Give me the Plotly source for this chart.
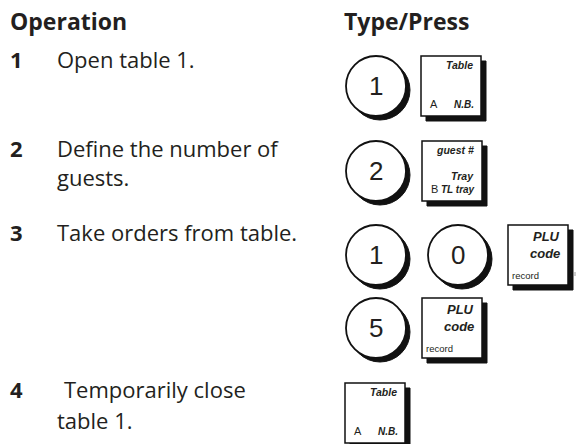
import plotly.graph_objects as go

# ---- content ----
headers = ["Operation", "Type/Press"]
step_numbers = ["1", "2", "3", "4"]
step_lines = [["Open table 1."],
              ["Define the number of", "guests."],
              ["Take orders from table."],
              ["Temporarily close", "table 1."]]
circle_digits = ["1", "2", "1", "0", "5"]
key_table = {"top": "Table", "mid": "", "left": "A", "right": "N.B."}
key_guest = {"top": "guest #", "mid": "Tray", "left": "B", "right": "TL tray"}
key_plu = {"top": "PLU", "mid": "code", "left": "record", "right": ""}

W, H = 577, 444
shapes = []
ann = []

TXT = "#231f20"
BODY = "Open Sans"
KEYF = "Liberation Sans"

def text(x, y, s, size, bold=False, family=BODY, anchor="left", italic=False):
    t = s
    if italic:
        t = "<i>" + t + "</i>"
    if bold:
        t = "<b>" + t + "</b>"
    ann.append(dict(x=x, y=y, xref="x", yref="y", text=t, showarrow=False,
                    xanchor=anchor, yanchor="middle",
                    font=dict(family=family, size=size, color=TXT)))

def circle_key(cx, cy, d, r=30):
    shapes.append(dict(type="circle", xref="x", yref="y", x0=cx-r+4, x1=cx+r+4, y0=cy-r+4, y1=cy+r+4,
                       fillcolor="#111", line=dict(color="#111", width=1)))
    shapes.append(dict(type="circle", xref="x", yref="y", x0=cx-r, x1=cx+r, y0=cy-r, y1=cy+r,
                       fillcolor="white", line=dict(color="#111", width=1.8)))
    text(cx, cy, d, 26, family=KEYF, anchor="center")

def square_key(x0, y0, lab, s=60):
    shapes.append(dict(type="rect", xref="x", yref="y", x0=x0+5, x1=x0+s+5, y0=y0+5, y1=y0+s+5,
                       fillcolor="#111", line=dict(color="#111", width=1)))
    shapes.append(dict(type="rect", xref="x", yref="y", x0=x0, x1=x0+s, y0=y0, y1=y0+s,
                       fillcolor="white", line=dict(color="#111", width=1.5)))
    if lab is key_plu:
        text(x0+s-6, y0+11, lab["top"], 13, bold=True, italic=True, family=KEYF, anchor="right")
        text(x0+s-6, y0+28, lab["mid"], 13, bold=True, italic=True, family=KEYF, anchor="right")
        text(x0+2, y0+s-10, lab["left"], 9.5, family=KEYF, anchor="left")
    else:
        text(x0+s-6, y0+9, lab["top"], 10.5, bold=True, italic=True, family=KEYF, anchor="right")
        if lab["mid"]:
            text(x0+s-6, y0+s-25, lab["mid"], 10.5, bold=True, italic=True, family=KEYF, anchor="right")
        text(x0+7, y0+s-12, lab["left"], 11, family=KEYF, anchor="left")
        text(x0+s-5, y0+s-12, lab["right"], 10, bold=True, italic=True, family=KEYF, anchor="right")

# headers
text(8, 21, headers[0], 23, bold=True)
text(342, 21, headers[1], 23, bold=True)

# steps
row_y = [[59], [148, 177], [232], [389, 420]]
line_x = [[55], [55, 55], [55], [62, 55]]
for i, n in enumerate(step_numbers):
    text(8, row_y[i][0], n, 22, bold=True)
    for j, ln in enumerate(step_lines[i]):
        text(line_x[i][j], row_y[i][j], ln, 22)

# keys
circle_key(376, 86, circle_digits[0])
square_key(421, 56, key_table)
circle_key(376, 171, circle_digits[1])
square_key(422, 141, key_guest)
circle_key(376, 255, circle_digits[2])
circle_key(458, 255, circle_digits[3])
square_key(508, 225, key_plu)
circle_key(376, 328, circle_digits[4])
square_key(422, 298, key_plu)
square_key(345, 383, key_table)

# small stray mark to the right of the PLU key
shapes.append(dict(type="line", xref="x", yref="y", x0=575, x1=575, y0=272, y1=276,
                   line=dict(color="#999", width=1)))

fig = go.Figure()
fig.update_layout(
    width=W, height=H, margin=dict(l=0, r=0, t=0, b=0),
    paper_bgcolor="white", plot_bgcolor="white",
    xaxis=dict(range=[0, W], visible=False, fixedrange=True),
    yaxis=dict(range=[H, 0], visible=False, fixedrange=True),
    shapes=shapes, annotations=ann, showlegend=False,
)
fig.write_html("out.html", config={"displayModeBar": False},
               post_script="document.body.style.margin='0';")
